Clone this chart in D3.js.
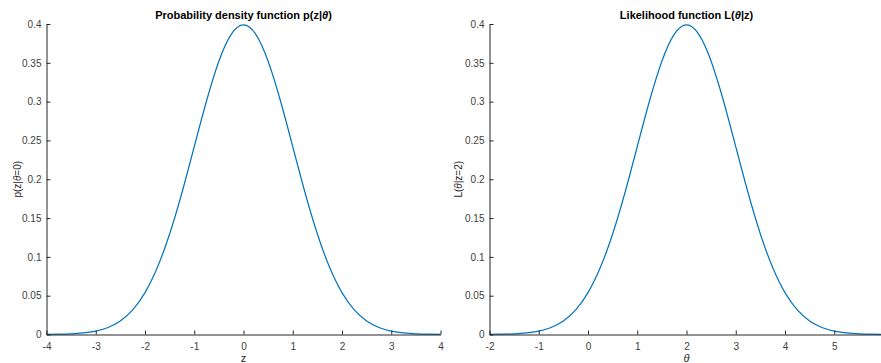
<!DOCTYPE html>
<html><head><meta charset="utf-8">
<script src="https://cdn.jsdelivr.net/npm/d3@7"></script>
<style>body{margin:0;background:#fff}svg{display:block}text{font-family:"Liberation Sans",Arial,Helvetica,sans-serif}</style>
</head><body><svg id="c" width="881" height="363"></svg>
<script>
// data
const zValues = [-4,-3.75,-3.5,-3.25,-3,-2.75,-2.5,-2.25,-2,-1.75,-1.5,-1.25,-1,-0.75,-0.5,-0.25,0,0.25,0.5,0.75,1,1.25,1.5,1.75,2,2.25,2.5,2.75,3,3.25,3.5,3.75,4];
const pdfValues = [0.0001,0.0004,0.0009,0.0020,0.0044,0.0091,0.0175,0.0317,0.0540,0.0863,0.1295,0.1826,0.2420,0.3011,0.3521,0.3867,0.3989,0.3867,0.3521,0.3011,0.2420,0.1826,0.1295,0.0863,0.0540,0.0317,0.0175,0.0091,0.0044,0.0020,0.0009,0.0004,0.0001];
const thetaValues = [-2,-1.75,-1.5,-1.25,-1,-0.75,-0.5,-0.25,0,0.25,0.5,0.75,1,1.25,1.5,1.75,2,2.25,2.5,2.75,3,3.25,3.5,3.75,4,4.25,4.5,4.75,5,5.25,5.5,5.75,6];
const likValues = [0.0001,0.0004,0.0009,0.0020,0.0044,0.0091,0.0175,0.0317,0.0540,0.0863,0.1295,0.1826,0.2420,0.3011,0.3521,0.3867,0.3989,0.3867,0.3521,0.3011,0.2420,0.1826,0.1295,0.0863,0.0540,0.0317,0.0175,0.0091,0.0044,0.0020,0.0009,0.0004,0.0001];
const leftXTicks = [-4,-3,-2,-1,0,1,2,3,4];
const rightXTicks = [-2,-1,0,1,2,3,4,5,6];
const yTicks = [0,0.05,0.1,0.15,0.2,0.25,0.3,0.35,0.4];

const svg = d3.select("#c");
const axisCol = "#262626";

function panel(o){
  const g = svg.append("g");
  const x = d3.scaleLinear().domain(o.xDomain).range([o.x0, o.x1]);
  const y = d3.scaleLinear().domain([0,0.4]).range([o.y0, o.y1]);
  g.append("path")
    .datum(o.xs.map((v,i)=>[v,o.ys[i]]))
    .attr("fill","none").attr("stroke","#0072BD").attr("stroke-width",1.2)
    .attr("d", d3.line().x(d=>x(d[0])).y(d=>y(d[1])).curve(d3.curveNatural));
  const xa = g.append("g").attr("transform",`translate(0,${o.y0})`)
    .call(d3.axisBottom(x).tickValues(o.xTicks).tickSizeInner(-4).tickSizeOuter(0).tickFormat(d=>String(d)));
  xa.select(".domain").attr("stroke",axisCol);
  xa.selectAll(".tick line").attr("stroke",axisCol);
  xa.selectAll(".tick text").attr("fill","#404040").attr("font-size",10).attr("y",8).attr("dy","0.71em");
  const ya = g.append("g").attr("transform",`translate(${o.x0},0)`)
    .call(d3.axisLeft(y).tickValues(yTicks).tickSizeInner(-4).tickSizeOuter(0).tickFormat(d=>String(+d.toFixed(2))));
  ya.select(".domain").attr("stroke",axisCol);
  ya.selectAll(".tick line").attr("stroke",axisCol);
  ya.selectAll(".tick text").attr("fill","#404040").attr("font-size",10).attr("x",-5);
  const t = g.append("text").attr("x",(o.x0+o.x1)/2).attr("y",19).attr("text-anchor","middle")
    .attr("font-size",11).attr("font-weight","bold").attr("fill","#000");
  o.title(t);
  const xl = g.append("text").attr("x",(o.x0+o.x1)/2).attr("y",362).attr("text-anchor","middle")
    .attr("font-size",11).attr("fill","#262626");
  o.xlabel(xl);
  const yl = g.append("text").attr("transform",`translate(${o.ylx},${(o.y0+o.y1)/2}) rotate(-90)`)
    .attr("text-anchor","middle").attr("font-size",10).attr("fill","#262626");
  o.ylabel(yl);
}

panel({
  xDomain:[-4,4], x0:46.5, x1:440.5, y0:334.5, y1:24,
  xs:zValues, ys:pdfValues, xTicks:leftXTicks, ylx:21,
  title:t=>{t.append("tspan").text("Probability density function p(z|");t.append("tspan").attr("font-style","italic").text("θ");t.append("tspan").text(")");},
  xlabel:t=>t.text("z"),
  ylabel:t=>{t.append("tspan").text("p(z|");t.append("tspan").attr("font-style","italic").text("θ");t.append("tspan").text("=0)");}
});
panel({
  xDomain:[-2,6], x0:489.5, x1:883.5, y0:334.5, y1:24,
  xs:thetaValues, ys:likValues, xTicks:rightXTicks, ylx:462,
  title:t=>{t.append("tspan").text("Likelihood function L(");t.append("tspan").attr("font-style","italic").text("θ");t.append("tspan").text("|z)");},
  xlabel:t=>t.attr("font-family","DejaVu Serif").attr("font-style","italic").text("θ"),
  ylabel:t=>{t.append("tspan").text("L(");t.append("tspan").attr("font-style","italic").text("θ");t.append("tspan").text("|z=2)");}
});
</script></body></html>
